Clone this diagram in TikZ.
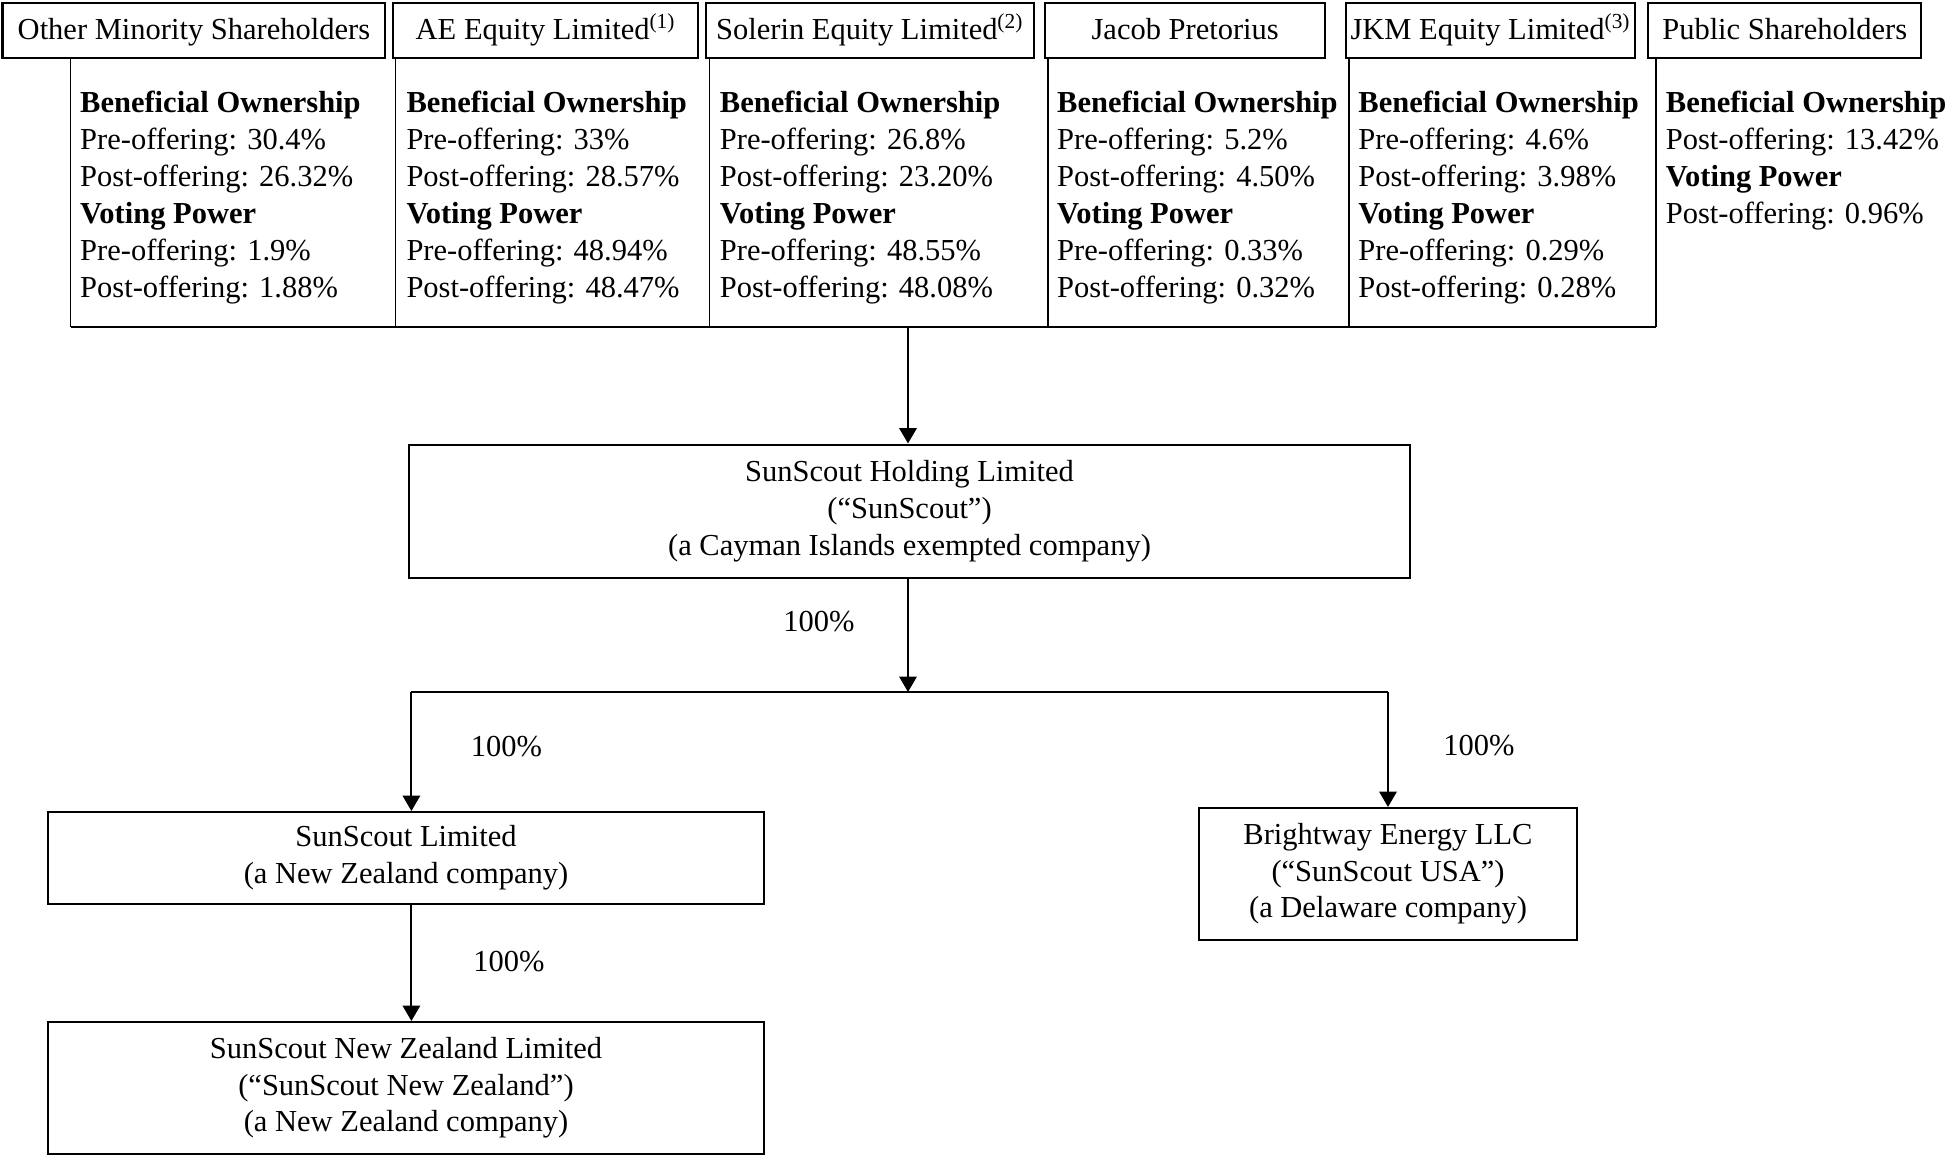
\documentclass[tikz,border=0pt]{standalone}
\usepackage{fontspec}
\setmainfont{Liberation Serif}
\usetikzlibrary{arrows.meta}
\begin{document}
\begin{tikzpicture}[x=0.4pt,y=-0.4pt,
  txt/.style={font=\fontsize{12.2pt}{14.76pt}\selectfont},
  hdr/.style={txt,draw,line width=0.95pt,inner sep=0pt,anchor=north west,
    minimum height=55*0.4pt,text height=9pt,text depth=1.8pt},
  col/.style={txt,inner sep=0pt,anchor=north west,align=left},
  boxx/.style={txt,draw,line width=0.8pt,inner sep=0pt,anchor=north west,align=center},
  tbl/.style={line width=0.55pt},
  arr/.style={line width=0.8pt,-{Triangle[length=6.2pt,width=7pt]}},
  lbl/.style={txt,inner sep=0pt}]
\useasboundingbox (0,0) rectangle (1946,1154);
% header boxes
\node[hdr,minimum width=382.5*0.4pt] (h1) at (1.5,1.5) {Other Minority Shareholders};
\node[hdr,minimum width=305*0.4pt] (h2) at (392,1.5) {AE Equity Limited\textsuperscript{(1)}};
\node[hdr,minimum width=327.5*0.4pt] (h3) at (705,1.5) {Solerin Equity Limited\textsuperscript{(2)}};
\node[hdr,minimum width=280*0.4pt] (h4) at (1044,1.5) {Jacob Pretorius};
\node[hdr,minimum width=289*0.4pt] (h5) at (1345,1.5) {JKM Equity Limited\textsuperscript{(3)}};
\node[hdr,minimum width=273*0.4pt] (h6) at (1647,1.5) {Public Shareholders};
% table lines
\draw[tbl] (70.5,56.5) -- (70.5,326.7);
\draw[tbl] (395.5,56.5) -- (395.5,326.7);
\draw[tbl] (709.8,56.5) -- (709.8,326.7);
\draw[tbl] (1048,56.5) -- (1048,326.7);
\draw[tbl] (1349,56.5) -- (1349,326.7);
\draw[tbl] (1656,56.5) -- (1656,326.7);
\draw[line width=0.8pt] (70.5,326.7) -- (1656,326.7);
% column texts
\node[col] (c1) at (79.7,86.2) {\strut\textbf{Beneficial Ownership}\\Pre-offering: 30.4\%\\Post-offering: 26.32\%\\\textbf{Voting Power}\\Pre-offering: 1.9\%\\Post-offering: 1.88\%};
\node[col] (c2) at (406,86.2) {\strut\textbf{Beneficial Ownership}\\Pre-offering: 33\%\\Post-offering: 28.57\%\\\textbf{Voting Power}\\Pre-offering: 48.94\%\\Post-offering: 48.47\%};
\node[col] (c3) at (719.4,86.2) {\strut\textbf{Beneficial Ownership}\\Pre-offering: 26.8\%\\Post-offering: 23.20\%\\\textbf{Voting Power}\\Pre-offering: 48.55\%\\Post-offering: 48.08\%};
\node[col] (c4) at (1056.7,86.2) {\strut\textbf{Beneficial Ownership}\\Pre-offering: 5.2\%\\Post-offering: 4.50\%\\\textbf{Voting Power}\\Pre-offering: 0.33\%\\Post-offering: 0.32\%};
\node[col] (c5) at (1357.9,86.2) {\strut\textbf{Beneficial Ownership}\\Pre-offering: 4.6\%\\Post-offering: 3.98\%\\\textbf{Voting Power}\\Pre-offering: 0.29\%\\Post-offering: 0.28\%};
\node[col] (c6) at (1665.4,86.2) {\strut\textbf{Beneficial Ownership}\\Post-offering: 13.42\%\\\textbf{Voting Power}\\Post-offering: 0.96\%};
% company boxes
\node[boxx,minimum width=1001*0.4pt,minimum height=133*0.4pt] (hold) at (408,443.5)
  {SunScout Holding Limited\\(“SunScout”)\\(a Cayman Islands exempted company)};
\node[boxx,minimum width=716*0.4pt,minimum height=92*0.4pt] (sl) at (47,811)
  {SunScout Limited\\(a New Zealand company)};
\node[boxx,minimum width=716*0.4pt,minimum height=131.5*0.4pt] (nz) at (47,1021)
  {SunScout New Zealand Limited\\(“SunScout New Zealand”)\\(a New Zealand company)};
\node[boxx,minimum width=378*0.4pt,minimum height=131.5*0.4pt] (bw) at (1198,807)
  {Brightway Energy LLC\\(“SunScout USA”)\\(a Delaware company)};
% connectors
\coordinate (tb) at (908,326.7);
\coordinate (split) at (908,692);
\coordinate (bl) at (411.4,692);
\coordinate (br) at (1388,692);
\draw[arr] (tb) -- (tb |- hold.north);
\draw[arr] (split |- hold.south) -- (split);
\draw[line width=0.8pt] (bl) -- (br);
\draw[arr] (bl) -- (bl |- sl.north);
\draw[arr] (br) -- (br |- bw.north);
\draw[arr] (bl |- sl.south) -- (bl |- nz.north);
% labels
\node[lbl] (l1) at (819,622) {100\%};
\node[lbl] (l2) at (506.5,747) {100\%};
\node[lbl] (l3) at (1479,746) {100\%};
\node[lbl] (l4) at (509,962) {100\%};
\end{tikzpicture}
\end{document}
